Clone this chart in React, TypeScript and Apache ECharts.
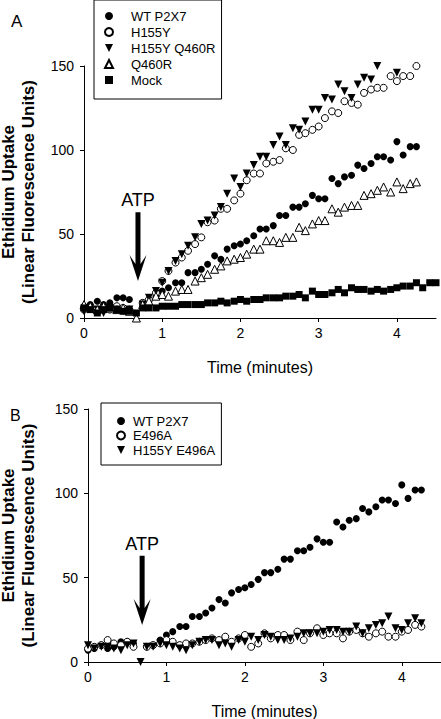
import React, { useEffect, useRef } from "react";
import * as echarts from "echarts";

// Time in minutes (one reading every 5 s)
const times = [
  0, 0.08, 0.17, 0.25, 0.33, 0.42, 0.5, 0.58, 0.67, 0.75, 0.83, 0.92, 1,
  1.08, 1.17, 1.25, 1.33, 1.42, 1.5, 1.58, 1.67, 1.75, 1.83, 1.92, 2,
  2.08, 2.17, 2.25, 2.33, 2.42, 2.5, 2.58, 2.67, 2.75, 2.83, 2.92, 3,
  3.08, 3.17, 3.25, 3.33, 3.42, 3.5, 3.58, 3.67, 3.75, 3.83, 3.92, 4,
  4.08, 4.17, 4.25, 4.33, 4.42, 4.5,
];

// Panel A
const wtP2X7 = [
  7, 8, 10, 8, 9, 12, 12, 11, null,
  9, 10, 13, 16,
  18, 21, 21, 27, 27, 29, 32, 37, 35, 41, 43, 44,
  46, 49, 53, 53, 55, 61, 61, 66, 66, 68, 73, 71,
  71, 83, 80, 84, 85, 91, 89, 92, 96, 96, 94, 105,
  97, 102, 102,
];
const h155y = [
  5, 6, 4, 6, 5, 7, 6, 5, null,
  9, 11, 15, 22,
  28, 33, 36, 40, 44, 48, 57, 58, 65, 65, 70, 74,
  82, 86, 86, 92, 93, 94, 101, 100, 109, 110, 112, 114,
  119, 123, 122, 129, 128, 127, 134, 136, 137, 137, 144, 141,
  144, 144, 150,
];
const h155yQ460r = [
  4, 6, 5, 3, 6, 5, 4, 5, null,
  8, 12, 16, 21,
  28, 34, 38, 43, 48, 56, 58, 61, 66, 74, 83, 78,
  86, 91, 96, 96, 103, 108, 103, 113, 112, 117, 124, 124,
  131, 130, 139, 135, 131, 139, 143, 142, 150, null, null, 146,
  null, null, null,
];
const q460r = [
  8, 7, 5, 7, 6, 5, 6, 4, 0,
  8, 10, 13, 14,
  13, 16, 17, 17, 22, 24, 26, 29, 31, 34, 35, 36,
  38, 41, 41, 46, 46, 45, 48, 48, 54, 52, 56, 58,
  58, 65, 63, 66, 67, 67, 73, 74, 76, 78, 75, 81,
  77, 80, 81,
];
const mock = [
  6, 5, 3, 5, 6, 5, 4, 4, 3,
  6, 6, 6, 7,
  7, 7, 8, 8, 8, 8, 9, 9, 10, 9, 10, 11,
  10, 11, 11, 12, 12, 12, 13, 13, 14, 12, 16, 14,
  14, 15, 17, 15, 18, 17, 17, 16, 17, 16, 17, 18,
  19, 19, 21, 18, 21, 21,
];

// Panel B
const e496a = [
  8, 9, 10, 13, 11, 10, 12, 9, null,
  9, 10, 11, 13,
  12, 10, 11, 11, 12, 13, 14, 13, 15, 12, 14, 16,
  9, 11, 17, 14, 16, 16, 13, 18, 13, 17, 20, 16,
  17, 17, 14, 18, 19, 17, 15, 17, 18, 15, 15, 18,
  19, 22, 21,
];
const h155yE496a = [
  10, 8, 9, 9, 8, 7, 10, 11, 0,
  9, 9, 11, 10,
  9, 8, 7, 10, 12, 13, 13, 10, 11, 9, 13, 12,
  15, 13, 16, 15, 13, 13, 14, 15, 17, 17, 17, 18,
  19, 19, 18, 18, 21, 17, 20, 22, 23, 27, 20, 19,
  23, 26, 23,
];

const xTicks = [0, 1, 2, 3, 4];
const yTicks = [0, 50, 100, 150];

const namesA = ["WT P2X7", "H155Y", "H155Y Q460R", "Q460R", "Mock"];
const namesB = ["WT P2X7", "E496A", "H155Y E496A"];

// ATP annotation (data coordinates)
const atpTime = 0.69;
const atpLabelValue = 70;
const arrowTopValue = 63;
const arrowTipValue = 22;

const FONT = "'Liberation Sans', Arial, Helvetica, sans-serif";
const ICONS: Record<string, string> = {
  "H155Y Q460R": "path://M0,0L10,0L5,10Z",
  "H155Y E496A": "path://M0,0L10,0L5,10Z",
  "Q460R": "path://M5,0L10,10L0,10Z",
  "Mock": "path://M0,0L10,0L10,10L0,10Z",
};

function pts(vals: (number | null)[]) {
  const out: number[][] = [];
  vals.forEach((v, i) => {
    if (v !== null && v !== undefined) out.push([times[i], v]);
  });
  return out;
}

const filled = { color: "#000", borderWidth: 0, opacity: 1 };
const hollow = { color: "#fff", borderColor: "#000", borderWidth: 1, opacity: 1 };

function xAxis(gridIndex: number) {
  return {
    type: "value",
    gridIndex,
    min: 0,
    max: 4.5,
    interval: 1,
    axisLine: { show: true, onZero: false, lineStyle: { color: "#000", width: 1 } },
    axisTick: { show: true, length: 4, customValues: xTicks, lineStyle: { color: "#000" } },
    axisLabel: {
      customValues: xTicks,
      margin: 8,
      fontSize: 14,
      color: "#000",
      fontFamily: FONT,
    },
    splitLine: { show: false },
    name: "Time (minutes)",
    nameLocation: "middle",
    nameGap: 41,
    nameTextStyle: { fontSize: 16, color: "#000", fontFamily: FONT },
  };
}

function yAxis(gridIndex: number, nameGap: number) {
  return {
    type: "value",
    gridIndex,
    min: 0,
    max: 150,
    interval: 50,
    axisLine: { show: true, onZero: false, lineStyle: { color: "#000", width: 1 } },
    axisTick: { show: true, length: 4, customValues: yTicks, lineStyle: { color: "#000" } },
    axisLabel: {
      customValues: yTicks,
      margin: 10,
      fontSize: 14,
      color: "#000",
      fontFamily: FONT,
    },
    splitLine: { show: false },
    name: "Ethidium Uptake\n(Linear Fluorescence Units)",
    nameLocation: "middle",
    nameGap,
    nameTextStyle: {
      fontSize: 17,
      fontWeight: "bold",
      lineHeight: 20,
      color: "#000",
      fontFamily: FONT,
    },
  };
}

function scatter(name: string, data: (number | null)[], grid: number, symbol: string, size: number, itemStyle: any, rotate = 0) {
  return {
    type: "scatter",
    name,
    xAxisIndex: grid,
    yAxisIndex: grid,
    data: pts(data),
    symbol,
    symbolSize: size,
    symbolRotate: rotate,
    itemStyle,
    emphasis: { disabled: true },
  };
}

function legendData(names: string[]) {
  return names.map((n) => (ICONS[n] ? { name: n, icon: ICONS[n] } : { name: n }));
}

export default function App() {
  const ref = useRef<HTMLDivElement>(null);
  useEffect(() => {
    const chart = echarts.init(ref.current!, null, { renderer: "svg" });
    const option: any = {
      animation: false,
      backgroundColor: "#fff",
      textStyle: { fontFamily: FONT },
      title: [
        { text: "A", left: 6, top: 8, textStyle: { fontSize: 17, fontWeight: "normal", color: "#000", fontFamily: FONT } },
        { text: "B", left: 5, top: 402, textStyle: { fontSize: 16, fontWeight: "normal", color: "#000", fontFamily: FONT } },
      ],
      grid: [
        { left: 84, top: 66, width: 352, height: 252, outerBoundsMode: "none" },
        { left: 88, top: 409, width: 353, height: 253, outerBoundsMode: "none" },
      ],
      xAxis: [xAxis(0), xAxis(1)],
      yAxis: [yAxis(0, 46), yAxis(1, 50)],
      legend: [
        {
          data: legendData(namesA),
          orient: "vertical",
          left: 94,
          top: 0,
          itemWidth: 34,
          itemHeight: 8,
          itemGap: 0,
          symbolKeepAspect: true,
          padding: [8, 6, 11, 10],
          borderColor: "#000",
          borderWidth: 1,
          selectedMode: false,
          textStyle: { fontSize: 13, lineHeight: 16, color: "#000", fontFamily: FONT },
        },
        {
          data: legendData(namesB),
          orient: "vertical",
          left: 101,
          top: 403,
          itemWidth: 14,
          itemHeight: 8,
          itemGap: 0,
          symbolKeepAspect: true,
          padding: [10.75, 6, 7.75, 15],
          borderColor: "#000",
          borderWidth: 1,
          selectedMode: false,
          textStyle: { fontSize: 13, lineHeight: 14.5, color: "#000", fontFamily: FONT },
        },
      ],
      series: [
        scatter("WT P2X7", wtP2X7, 0, "circle", 7, filled),
        scatter("H155Y", h155y, 0, "circle", 7, hollow),
        scatter("H155Y Q460R", h155yQ460r, 0, "triangle", 8, filled, 180),
        scatter("Q460R", q460r, 0, "triangle", 8, hollow),
        scatter("Mock", mock, 0, "rect", 7, filled),
        scatter("WT P2X7", wtP2X7, 1, "circle", 7, filled),
        scatter("E496A", e496a, 1, "circle", 7, hollow),
        scatter("H155Y E496A", h155yE496a, 1, "triangle", 8, filled, 180),
      ],
    };
    chart.setOption(option);

    const graphics: any[] = [];
    [0, 1].forEach((g) => {
      const lbl = chart.convertToPixel({ gridIndex: g }, [atpTime, atpLabelValue]) as number[];
      const top = chart.convertToPixel({ gridIndex: g }, [atpTime, arrowTopValue]) as number[];
      const tip = chart.convertToPixel({ gridIndex: g }, [atpTime, arrowTipValue]) as number[];
      const x = tip[0];
      const ty = tip[1];
      graphics.push({
        type: "text",
        x: lbl[0],
        y: lbl[1],
        style: { text: "ATP", fontSize: 18, fontFamily: FONT, fill: "#000", align: "center", verticalAlign: "middle" },
      });
      graphics.push({
        type: "polygon",
        shape: {
          points: [
            [x - 2.5, top[1]],
            [x + 2.5, top[1]],
            [x + 2.5, ty - 17],
            [x + 8.5, ty - 26],
            [x, ty],
            [x - 8.5, ty - 26],
            [x - 2.5, ty - 17],
          ],
        },
        style: { fill: "#000" },
      });
    });
    chart.setOption({ graphic: graphics });

    return () => chart.dispose();
  }, []);
  return <div ref={ref} style={{ position: "absolute", left: 0, top: 0, width: 441, height: 719 }} />;
}
